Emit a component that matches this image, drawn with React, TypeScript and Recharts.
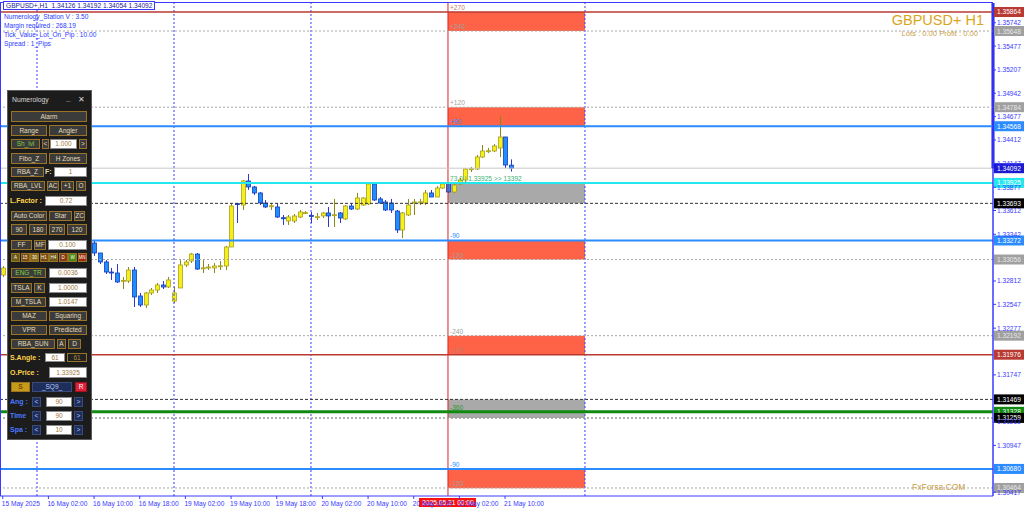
import React from 'react';
import { ComposedChart, Bar, XAxis, YAxis, ReferenceLine, ReferenceArea, ReferenceDot } from 'recharts';

const FONT = '"Liberation Sans", Arial, sans-serif';

// H1 bars, index 0 = 15 May 18:00; bars 1..15 sit behind the panel
const barIndex = [0, ...Array.from({ length: 74 }, (_, k) => 16 + k)];
const opens = [
  1.3288,
  1.33243, 1.3313, 1.33028, 1.32914, 1.32903, 1.3281, 1.32812, 1.32937, 1.32642, 1.3254,
  1.32676, 1.3271, 1.32767, 1.32744, 1.32585, 1.32733, 1.32994, 1.33039, 1.33118, 1.32955,
  1.3296, 1.3296, 1.32978, 1.32982, 1.33198, 1.3369, 1.33674, 1.33947, 1.33879, 1.33811,
  1.33697, 1.3366, 1.33652, 1.3353, 1.33493, 1.33493, 1.33538, 1.33582, 1.33555, 1.33536,
  1.3355, 1.33584, 1.33558, 1.33584, 1.33516, 1.33663, 1.33629, 1.33674, 1.33686, 1.33913,
  1.33743, 1.33708, 1.33697, 1.33606, 1.33391, 1.33561, 1.33697, 1.33704, 1.33697, 1.33811,
  1.33765, 1.33867, 1.33924, 1.33822, 1.33913, 1.33958, 1.3408, 1.34083, 1.34219, 1.34284,
  1.34287, 1.34321, 1.34446, 1.34126,
];
const highs = [
  1.32982,
  1.33277, 1.3313, 1.3305, 1.3296, 1.33005, 1.32858, 1.32971, 1.32971, 1.32676, 1.32687,
  1.32733, 1.3279, 1.32812, 1.32858, 1.32744, 1.3305, 1.3305, 1.3313, 1.3313, 1.3305,
  1.33005, 1.33016, 1.33039, 1.33209, 1.33697, 1.33697, 1.33958, 1.34026, 1.3389, 1.33822,
  1.33731, 1.33697, 1.33697, 1.33561, 1.33561, 1.33572, 1.33618, 1.33606, 1.33595, 1.33584,
  1.33595, 1.33652, 1.33743, 1.33595, 1.33674, 1.33697, 1.33811, 1.33765, 1.33935, 1.33924,
  1.33765, 1.33731, 1.33743, 1.33618, 1.33595, 1.33743, 1.33743, 1.33743, 1.33845, 1.33845,
  1.3389, 1.33924, 1.33935, 1.33924, 1.33981, 1.34094, 1.34106, 1.34242, 1.34355, 1.34321,
  1.34366, 1.34684, 1.34446, 1.34192,
];
const lows = [
  1.32858,
  1.33096, 1.33005, 1.32892, 1.32824, 1.3279, 1.32721, 1.3279, 1.32517, 1.32517, 1.32506,
  1.32653, 1.32676, 1.32721, 1.32733, 1.32563, 1.32733, 1.32971, 1.33016, 1.32937, 1.32903,
  1.32937, 1.32903, 1.32937, 1.32937, 1.33198, 1.3347, 1.33618, 1.33845, 1.33788, 1.33674,
  1.3364, 1.33618, 1.33527, 1.33448, 1.33448, 1.3347, 1.33527, 1.33572, 1.3347, 1.33504,
  1.33527, 1.33425, 1.33425, 1.3347, 1.33504, 1.33618, 1.33618, 1.33663, 1.33674, 1.3372,
  1.33697, 1.33606, 1.33584, 1.33357, 1.333, 1.3355, 1.33561, 1.33674, 1.33674, 1.33765,
  1.33765, 1.33856, 1.33811, 1.33811, 1.33901, 1.33935, 1.34049, 1.34072, 1.34208, 1.34265,
  1.34276, 1.34219, 1.34094, 1.34054,
];
const closes = [
  1.3296,
  1.3313, 1.33028, 1.32914, 1.32903, 1.32801, 1.32818, 1.32937, 1.32631, 1.3254, 1.32676,
  1.3271, 1.32767, 1.32744, 1.32824, 1.32676, 1.32994, 1.33028, 1.33118, 1.32948, 1.32962,
  1.32971, 1.32982, 1.32985, 1.33198, 1.33663, 1.3368, 1.33947, 1.33879, 1.33811, 1.33697,
  1.33652, 1.33666, 1.33538, 1.33524, 1.33538, 1.3355, 1.33595, 1.33588, 1.33548, 1.33542,
  1.33584, 1.3355, 1.33565, 1.33527, 1.33663, 1.33629, 1.33754, 1.33754, 1.33913, 1.33731,
  1.33697, 1.33618, 1.33618, 1.33391, 1.33584, 1.33674, 1.33708, 1.3371, 1.33811, 1.33765,
  1.33867, 1.33913, 1.33822, 1.33901, 1.33958, 1.34083, 1.34086, 1.34219, 1.34287, 1.3429,
  1.34344, 1.34446, 1.34128, 1.34092,
];

const candles = opens.map((o, k) => ({
  i: barIndex[k],
  o,
  h: highs[k],
  l: lows[k],
  c: closes[k],
  range: [lows[k], highs[k]],
}));

const bid = 1.34092;

const priceTicks = [
  1.35742, 1.35477, 1.35207, 1.34942, 1.34677, 1.34412, 1.34147, 1.33877, 1.33612, 1.33342,
  1.32812, 1.32547, 1.32277, 1.31747, 1.31212, 1.30947, 1.30417,
];

// time scale: a label every 8 bars
const timeTicks = [0, 8, 16, 24, 32, 40, 48, 56, 64, 72, 80, 88];
const timeLabels = [
  '15 May 2025', '16 May 02:00', '16 May 10:00', '16 May 18:00', '19 May 02:00', '19 May 10:00',
  '19 May 18:00', '20 May 02:00', '20 May 10:00', '20 May 18:00', '21 May 02:00', '21 May 10:00',
];

// horizontal levels
const levelPrices = [
  1.35864, 1.35648, 1.34784, 1.34568, 1.33925, 1.33693, 1.33272, 1.33056,
  1.32192, 1.31976, 1.31469, 1.31328, 1.31259, 1.3068, 1.30464,
];
const levelKinds = [
  'red', 'grey', 'grey', 'blue', 'cyan', 'black', 'blue', 'grey',
  'grey', 'red', 'black', 'green', 'greyBlack', 'blue', 'grey',
];
const kindStyle: Record<string, any> = {
  red: { stroke: '#b83a32', width: 1.5, dash: undefined, tag: '#b83a32', tagText: '#fff' },
  grey: { stroke: '#a8a8a8', width: 1, dash: '2 2', tag: '#a0a0a0', tagText: '#e8e8e8' },
  blue: { stroke: '#2b8cff', width: 2, dash: undefined, tag: '#2b8cff', tagText: '#fff' },
  cyan: { stroke: '#22e8ee', width: 2, dash: undefined, tag: '#22e8ee', tagText: '#fff' },
  black: { stroke: '#333', width: 1, dash: '3 2', tag: '#000', tagText: '#fff' },
  green: { stroke: '#118a11', width: 3, dash: undefined, tag: '#118a11', tagText: '#fff' },
  greyBlack: { stroke: '#9a9a9a', width: 1.5, dash: '2 2', tag: '#000', tagText: '#fff' },
};

// square-of-nine zones, drawn from 21 May 00:00 to 22 May 00:00
const zoneStart = 78;
const zoneEnd = 102;
const zoneLow = [1.35648, 1.34568, 1.33693, 1.33056, 1.31976, 1.31259, 1.3046];
const zoneHigh = [1.35864, 1.34784, 1.33925, 1.33272, 1.32192, 1.31469, 1.3068];
const zoneKind = ['red', 'red', 'grey', 'red', 'red', 'grey', 'red'];

const zoneTagPrices = [1.35864, 1.35648, 1.34784, 1.34568, 1.33925, 1.33272, 1.33056, 1.32192, 1.31976, 1.31328, 1.3068, 1.30464];
const zoneTagTexts = ['+270', '+240', '+120', '+90', '73.0 | 1.33925  >> 13392', '-90', '-120', '-240', '-270', '-360', '-90', '-120'];
const zoneTagColors = ['#c07a70', '#a0a0a0', '#a0a0a0', '#2b8cff', '#3cb371', '#2b8cff', '#a0a0a0', '#a0a0a0', '#c07a70', '#2e9a2e', '#2b8cff', '#a0a0a0'];

const daySeparators = [6, 30, 54, 102];

const Candle = (props: any) => {
  const { x, y, width, height, payload } = props;
  const { o, h, l, c } = payload;
  const cx = Math.round(x + width / 2) + 0.5;
  const k = h === l ? 0 : height / (h - l);
  const yOf = (v: number) => y + (h - v) * k;
  const up = c >= o;
  const top = yOf(Math.max(o, c));
  const bot = yOf(Math.min(o, c));
  return (
    <g>
      <line x1={cx} x2={cx} y1={y} y2={y + height} stroke={up ? '#8a8a10' : '#2a3ad0'} strokeWidth={1} />
      <rect
        x={cx - 2}
        y={top}
        width={4}
        height={Math.max(bot - top, 1)}
        fill={up ? '#f5ef1a' : '#1e8fff'}
        stroke={up ? '#a8a020' : '#1a3ab8'}
        strokeWidth={0.8}
      />
    </g>
  );
};

const AxisTag = (props: any) => {
  const { viewBox, text, bg, fg } = props;
  const { x, y, width } = viewBox;
  return (
    <g>
      <rect x={x + width + 1} y={y - 5} width={31} height={10} fill={bg} />
      <text x={x + width + 4} y={y + 2.5} fontSize={6.6} fill={fg} fontFamily={FONT}>{text}</text>
    </g>
  );
};

const TimeTag = (props: any) => {
  const { viewBox, text } = props;
  const { x, y, height } = viewBox;
  const by = y + height + 2;
  return (
    <g>
      <rect x={x - 29} y={by} width={57} height={9} fill="#ff1010" />
      <text x={x} y={by + 6.8} fontSize={6.6} fill="#fff" textAnchor="middle" fontFamily={FONT}>{text}</text>
    </g>
  );
};

const ZoneTag = (props: any) => {
  const { viewBox, text, color } = props;
  return (
    <text x={viewBox.x + 2} y={viewBox.y - 2} fontSize={6.6} fill={color} fontFamily={FONT}>{text}</text>
  );
};

const PriceTick = (props: any) => {
  const { x, y, payload } = props;
  return (
    <text x={x} y={y + 2.4} fontSize={6.6} fill="#3a3aff" fontFamily={FONT}>{payload.value.toFixed(5)}</text>
  );
};

const TimeTick = (props: any) => {
  const { x, y, payload } = props;
  return (
    <text x={x - 1} y={y + 7} fontSize={6.6} fill="#3a3aff" fontFamily={FONT}>{timeLabels[timeTicks.indexOf(payload.value)]}</text>
  );
};

const txt = (s: React.CSSProperties): React.CSSProperties => ({ position: 'absolute', whiteSpace: 'nowrap', ...s });

type Cell = { t: string; x: number; w: number; k?: string; c?: string };
const panelRows: { y: number; h: number; cells: Cell[] }[] = [
  { y: 111, h: 11, cells: [{ t: 'Alarm', x: 11, w: 76 }] },
  { y: 125, h: 11, cells: [{ t: 'Range', x: 11, w: 36 }, { t: 'Angler', x: 49, w: 38 }] },
  { y: 139, h: 10, cells: [{ t: 'Sh_lvl', x: 11, w: 29, c: '#7fd040' }, { t: '<', x: 42, w: 7 }, { t: '1.000', x: 50, w: 27, k: 'in' }, { t: '>', x: 79, w: 8 }] },
  { y: 153, h: 11, cells: [{ t: 'Fibo_Z', x: 11, w: 36 }, { t: 'H Zones', x: 49, w: 38 }] },
  { y: 167, h: 10, cells: [{ t: 'RBA_Z', x: 11, w: 33 }, { t: 'F:', x: 45, w: 8, k: 'lb' }, { t: '1', x: 54, w: 33, k: 'in' }] },
  { y: 181, h: 10, cells: [{ t: 'RBA_LVL', x: 11, w: 34 }, { t: 'AC', x: 47, w: 12 }, { t: '+1', x: 61, w: 13 }, { t: 'O', x: 76, w: 10 }] },
  { y: 196, h: 10, cells: [{ t: 'L.Factor :', x: 10, w: 34, k: 'lb', c: '#ffd34a' }, { t: '0.72', x: 45, w: 42, k: 'in' }] },
  { y: 211, h: 10, cells: [{ t: 'Auto Color', x: 11, w: 36 }, { t: 'Star', x: 49, w: 23 }, { t: 'ZC', x: 74, w: 11 }] },
  { y: 224, h: 11, cells: [{ t: '90', x: 11, w: 16 }, { t: '180', x: 29, w: 18 }, { t: '270', x: 49, w: 16 }, { t: '120', x: 67, w: 20 }] },
  { y: 240, h: 10, cells: [{ t: 'FF', x: 11, w: 21 }, { t: 'MF', x: 34, w: 12 }, { t: '0.100', x: 48, w: 39, k: 'in' }] },
  { y: 268, h: 10, cells: [{ t: 'ENG_TR', x: 11, w: 35, c: '#7fd040' }, { t: '0.0036', x: 49, w: 38, k: 'in' }] },
  { y: 283, h: 10, cells: [{ t: 'TSLA', x: 11, w: 21 }, { t: 'K', x: 34, w: 11 }, { t: '1.0000', x: 49, w: 38, k: 'in' }] },
  { y: 297, h: 10, cells: [{ t: 'M_TSLA', x: 11, w: 35 }, { t: '1.0147', x: 49, w: 38, k: 'in' }] },
  { y: 311, h: 10, cells: [{ t: 'MAZ', x: 11, w: 36 }, { t: 'Squaring', x: 49, w: 38 }] },
  { y: 325, h: 10, cells: [{ t: 'VPR', x: 11, w: 36 }, { t: 'Predicted', x: 49, w: 38 }] },
  { y: 339, h: 10, cells: [{ t: 'RBA_SUN', x: 11, w: 44 }, { t: 'A', x: 57, w: 9 }, { t: 'D', x: 68, w: 13 }] },
  { y: 353, h: 9, cells: [{ t: 'S.Angle :', x: 10, w: 34, k: 'lb', c: '#ffd34a' }, { t: '61', x: 45, w: 20, k: 'in' }, { t: '61', x: 67, w: 20, k: 'dk' }] },
  { y: 367, h: 11, cells: [{ t: 'O.Price :', x: 10, w: 36, k: 'lb', c: '#ffd34a' }, { t: '1.33925', x: 49, w: 38, k: 'in' }] },
  { y: 382, h: 10, cells: [{ t: 'S', x: 11, w: 19, k: 'gold' }, { t: '_SQ9_', x: 32, w: 40, k: 'navy' }, { t: 'R', x: 75, w: 12, k: 'red' }] },
  { y: 397, h: 10, cells: [{ t: 'Ang :', x: 10, w: 20, k: 'lb', c: '#4a78ff' }, { t: '<', x: 32, w: 9, k: 'navy' }, { t: '90', x: 46, w: 26, k: 'in' }, { t: '>', x: 74, w: 9, k: 'navy' }] },
  { y: 411, h: 10, cells: [{ t: 'Time', x: 10, w: 20, k: 'lb', c: '#4a78ff' }, { t: '<', x: 32, w: 9, k: 'navy' }, { t: '90', x: 46, w: 26, k: 'in' }, { t: '>', x: 74, w: 9, k: 'navy' }] },
  { y: 425, h: 10, cells: [{ t: 'Spa :', x: 10, w: 20, k: 'lb', c: '#4a78ff' }, { t: '<', x: 32, w: 9, k: 'navy' }, { t: '10', x: 46, w: 26, k: 'in' }, { t: '>', x: 74, w: 9, k: 'navy' }] },
];
const tfCells = ['A', '15', '30', 'H1', 'H4', 'D', 'W', 'MN'];
const tfColors = ['#6b5a1a', '#7a4a14', '#8a6a14', '#7a4a14', '#6b5a1a', '#8a3a14', '#4a8a14', '#a02a14'];

const cellStyle = (cell: Cell, y: number, h: number): React.CSSProperties => {
  const base: React.CSSProperties = {
    position: 'absolute', left: cell.x, top: y, width: cell.w, height: h, boxSizing: 'border-box',
    fontSize: 6.5, lineHeight: `${h - 2}px`, textAlign: 'center', overflow: 'hidden', whiteSpace: 'nowrap',
    border: '1px solid #9a7424', background: '#3b3b3b', color: cell.c || '#e6dcb8',
  };
  if (cell.k === 'in') return { ...base, background: '#fff', border: '1px solid #8a8a8a', color: '#a07a40' };
  if (cell.k === 'lb') return { ...base, background: 'transparent', border: 'none', textAlign: 'left', fontWeight: 'bold', fontSize: 7, lineHeight: `${h}px` };
  if (cell.k === 'dk') return { ...base, background: '#222', color: '#b08a40' };
  if (cell.k === 'gold') return { ...base, background: '#c89a18', color: '#402a00' };
  if (cell.k === 'navy') return { ...base, background: '#1e2e5a', color: '#b8c8ff', border: '1px solid #3a4a7a' };
  if (cell.k === 'red') return { ...base, background: '#e0203a', color: '#fff', border: '1px solid #a01020' };
  return base;
};

const Panel = () => (
  <div>
    <div style={{ position: 'absolute', left: 7, top: 90, width: 85, height: 350, background: '#1c1c1c', border: '1px solid #5a5a5a', boxSizing: 'border-box' }} />
    <div style={txt({ left: 12, top: 96, fontSize: 6.8, color: '#d8d8d8' })}>Numerology</div>
    <div style={txt({ left: 66, top: 94, fontSize: 8, color: '#d8d8d8', fontWeight: 'bold' })}>_</div>
    <div style={txt({ left: 78, top: 95, fontSize: 8, color: '#d8d8d8' })}>✕</div>
    {panelRows.map((row, r) =>
      row.cells.map((cell, j) => (
        <div key={`${r}-${j}`} style={cellStyle(cell, row.y, row.h)}>{cell.t}</div>
      ))
    )}
    {tfCells.map((t, j) => (
      <div key={t} style={{ position: 'absolute', left: 11 + j * 9.5, top: 253, width: 9, height: 9, background: tfColors[j], border: '1px solid #9a7424', boxSizing: 'border-box', fontSize: 4.5, lineHeight: '7px', color: '#ffe', textAlign: 'center', overflow: 'hidden' }}>{t}</div>
    ))}
  </div>
);

export default function App() {
  return (
    <div style={{ position: 'absolute', left: 0, top: 0, width: 1024, height: 511, background: '#fff', overflow: 'hidden', fontFamily: FONT }}>
      <ComposedChart width={1024} height={511} data={candles} margin={{ top: 3, right: 0, bottom: 0, left: 0 }}>
        <XAxis
          dataKey="i"
          type="number"
          domain={[-0.48, 173.48]}
          ticks={timeTicks}
          interval={0}
          tick={<TimeTick />}
          tickSize={3}
          tickMargin={0}
          height={15}
          axisLine={{ stroke: '#3a3aff' }}
          tickLine={{ stroke: '#3a3aff' }}
          allowDataOverflow
        />
        <YAxis
          orientation="right"
          width={31}
          domain={[1.30373, 1.35966]}
          ticks={priceTicks}
          interval={0}
          tick={<PriceTick />}
          tickSize={3}
          tickMargin={1}
          axisLine={{ stroke: '#3a3aff', strokeWidth: 1.5 }}
          tickLine={{ stroke: '#3a3aff' }}
          allowDataOverflow
        />
        {zoneLow.map((lo, k) => (
          <ReferenceArea
            key={`z${k}`}
            x1={zoneStart}
            x2={zoneEnd}
            y1={lo}
            y2={zoneHigh[k]}
            fill={zoneKind[k] === 'red' ? '#ff6347' : '#a9a9a9'}
            fillOpacity={1}
            stroke="none"
          />
        ))}
        {daySeparators.map((d) => (
          <ReferenceLine key={`d${d}`} x={d} stroke="#3a3aff" strokeDasharray="2 2" />
        ))}
        <ReferenceLine x={zoneStart} stroke="#e02020" label={<TimeTag text="2025.05.21 00:00" />} />
        <ReferenceLine
          y={bid}
          stroke="#c8c8c8"
          label={<AxisTag text={bid.toFixed(5)} bg="#1a1ad0" fg="#fff" />}
        />
        <ReferenceLine
          segment={[{ x: 173.48, y: 1.35966 }, { x: 173.48, y: bid }]}
          stroke="#1a1ad0"
          strokeWidth={3}
        />
        {levelPrices.map((p, k) => {
          const s = kindStyle[levelKinds[k]];
          return (
            <ReferenceLine
              key={`l${k}`}
              y={p}
              stroke={s.stroke}
              strokeWidth={s.width}
              strokeDasharray={s.dash}
              label={<AxisTag text={p.toFixed(5)} bg={s.tag} fg={s.tagText} />}
            />
          );
        })}
        {zoneTagPrices.map((p, k) => (
          <ReferenceDot
            key={`t${k}`}
            x={zoneStart}
            y={p}
            r={0}
            fill="none"
            stroke="none"
            label={<ZoneTag text={zoneTagTexts[k]} color={zoneTagColors[k]} />}
          />
        ))}
        <Bar dataKey="range" barSize={4} shape={<Candle />} isAnimationActive={false} />
      </ComposedChart>

      <div style={{ position: 'absolute', left: 0, top: 2, width: 993, height: 1, background: '#3a3aff' }} />
      <div style={{ position: 'absolute', left: 0, top: 2, width: 1, height: 494, background: '#3a3aff' }} />

      <div style={txt({ left: 3, top: 1, fontSize: 6.6, color: '#1a1a9a', background: '#fff', padding: '0 2px', border: '1px solid #3a3aff' })}>
        GBPUSD+,H1&nbsp;&nbsp;1.34126 1.34192 1.34054 1.34092
      </div>
      <div style={txt({ left: 4, top: 12, fontSize: 6.6, color: '#2a3aff', lineHeight: '9px' })}>
        Numerology_Station V : 3.50<br />Margin required : 268.19<br />Tick_Value_Lot_On_Pip : 10.00<br />Spread : 1_Pips
      </div>
      <div style={txt({ right: 40, top: 12, fontSize: 14.5, color: '#daa520' })}>GBPUSD+ H1</div>
      <div style={txt({ right: 46, top: 29, fontSize: 7.6, color: '#c8a048' })}>Lots : 0.00 Profit : 0.00</div>
      <div style={txt({ left: 912, top: 482, fontSize: 8.5, color: '#c8a048' })}>FxForsa.COM</div>

      <Panel />
    </div>
  );
}
